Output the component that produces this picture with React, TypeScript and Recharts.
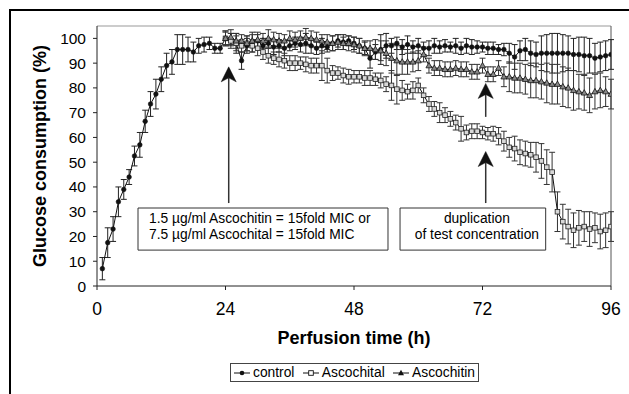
import React from 'react';
import {
  LineChart,
  Line,
  XAxis,
  YAxis,
  ErrorBar,
  Legend,
  ReferenceLine,
  ReferenceDot,
  ReferenceArea,
  Label,
} from 'recharts';

const FONT = '"Liberation Sans", Arial, Helvetica, sans-serif';

// perfusion hours (categories)
const hours = [
  1, 2, 3, 4, 5, 6, 7, 8, 9, 10, 11, 12, 13, 14, 15, 16, 17, 18, 19, 20, 21, 22, 23, 24,
  25, 26, 27, 28, 29, 30, 31, 32, 33, 34, 35, 36, 37, 38, 39, 40, 41, 42, 43, 44, 45, 46, 47, 48,
  49, 50, 51, 52, 53, 54, 55, 56, 57, 58, 59, 60, 61, 62, 63, 64, 65, 66, 67, 68, 69, 70, 71, 72,
  73, 74, 75, 76, 77, 78, 79, 80, 81, 82, 83, 84, 85, 86, 87, 88, 89, 90, 91, 92, 93, 94, 95, 96,
];
const treatmentStartHour = 24;

const controlValues = [
  7, 17.5, 23, 34, 39, 44, 52.5, 57, 66.5, 73.5, 77.5, 83.5, 89, 90.5, 95.5, 95.5, 95.5, 94.5, 97, 97.5, 98, 96, 96, 100,
  99.5, 98, 91, 97, 98.5, 99, 97, 98, 96.5, 97, 96, 97, 98, 97.5, 98, 97, 96, 97, 96.5, 98, 99, 98.5, 99, 98,
  97, 96, 92, 94.5, 95.5, 97, 97, 98, 96.5, 97.5, 96.5, 97, 96, 96, 97, 96.5, 97, 96.5, 97, 96, 97, 96.5, 96.5, 96.5,
  96, 96, 95.5, 95.5, 94, 92.5, 95, 95.5, 94, 93.5, 94, 94, 94, 94, 94, 94, 93.5, 93.5, 93, 93, 92, 92.5, 93, 93.5,
];
const controlErrors = [
  4.5, 6, 5, 6, 4, 3, 4, 5, 4.5, 5, 6, 5, 5, 5, 6, 6, 5, 4, 3, 3, 2.5, 2, 2, 3,
  2.5, 4, 3.5, 3, 4, 2.5, 3, 2, 3, 2.5, 3, 2, 2.5, 3, 4, 3, 2.5, 3, 2, 3, 2.5, 3, 2, 2.5,
  3, 2.5, 4, 3, 6, 5, 3, 2.5, 3, 3.5, 2.5, 3, 2.5, 3, 3, 2.5, 2.5, 2, 3, 2.5, 3, 3, 2.5, 2,
  2.5, 2.5, 2, 2.5, 4, 5, 4, 4.5, 5, 5, 7, 7.5, 8, 8, 7.5, 7, 6.5, 7, 7.5, 7, 6, 6, 6, 6,
];

// from hour 24 to 96
const ascochitalValues = [
  100, 99, 98, 97, 98, 97, 96, 94.5, 93, 92, 91.5, 91, 90, 90, 90, 89.5, 89, 89, 89, 87, 86, 86, 85, 84.5, 84.5,
  84.5, 84, 84, 83.5, 83, 81.5, 81, 79.5, 79, 78.5, 79, 81, 77, 73.5, 71.5, 70, 69, 67.5, 66, 63.5, 62, 62.5, 62.5, 62,
  61.5, 61.5, 60.5, 58.5, 56, 55.5, 54, 53.5, 53, 52, 50.5, 48, 46, 30, 26, 24, 22.5, 23.5, 24, 23, 23.5, 22, 22.5, 24,
];
const ascochitalErrors = [
  2.5, 3, 3, 2.5, 3, 2.5, 3, 3, 3, 2.5, 3, 3, 3, 3, 2.5, 3, 3, 3, 6, 5, 3, 2.5, 3, 3, 2.5,
  2.5, 3, 3, 2.5, 3, 3, 6, 6, 4, 3, 3.5, 3, 3, 3, 3, 4, 3, 3, 3, 5, 3, 3, 3, 2.5,
  2.5, 3, 3.5, 4, 4, 5, 5, 5, 5, 6, 7, 7, 8, 8, 7, 7, 7, 7, 6, 7, 6, 7, 7, 6,
];

const ascochitinValues = [
  100, 100.5, 99, 99, 98, 99, 99.5, 99, 100, 99.5, 99, 99, 100, 99.5, 100, 100.5, 100, 99.5, 99, 98.5, 98, 98.5, 98, 98, 97.5,
  97, 96, 96, 95.5, 95, 94, 92, 91, 90.5, 90.5, 90.5, 91, 93.5, 89, 88, 88, 87.5, 87.5, 88, 87.5, 87.5, 86.5, 86.5, 89,
  85.5, 85.5, 88, 84.5, 84.5, 84, 84, 83.5, 83, 83, 82.5, 82, 81.5, 81.5, 80.5, 80, 79, 78.5, 78, 77, 78.5, 79, 78.5, 77.5,
];
const ascochitinErrors = [
  3, 3, 3, 2.5, 3, 2.5, 3, 3, 3.5, 3, 3, 2.5, 3, 3, 3, 3.5, 3, 3, 2.5, 3, 3, 3, 2.5, 3, 3,
  3, 3, 3, 4, 4, 5, 6, 6, 5, 5, 4, 4, 3, 3, 3, 3, 3, 3, 3, 3, 3, 3, 3, 3,
  3, 3, 3, 4, 6, 6, 6, 6, 7, 7, 7, 8, 8, 8, 8, 8, 8, 7, 7, 7, 7, 7, 6, 6,
];

const xTicks = [0, 24, 48, 72, 96];
const yTicks = [0, 10, 20, 30, 40, 50, 60, 70, 80, 90, 100];
const seriesNames = ['control', 'Ascochital', 'Ascochitin'];
const xTitle = 'Perfusion time (h)';
const yTitle = 'Glucose consumption (%)';
const box1Lines = ['1.5 µg/ml Ascochitin = 15fold MIC or', '7.5 µg/ml Ascochital = 15fold MIC'];
const box2Lines = ['duplication', 'of test concentration'];

const data = hours.map((h, i) => {
  const j = h - treatmentStartHour;
  return {
    t: h,
    control: controlValues[i],
    controlErr: controlErrors[i],
    ascochital: j >= 0 ? ascochitalValues[j] : null,
    ascochitalErr: j >= 0 ? ascochitalErrors[j] : null,
    ascochitin: j >= 0 ? ascochitinValues[j] : null,
    ascochitinErr: j >= 0 ? ascochitinErrors[j] : null,
  };
});

const CircleDot = (p: any) => {
  if (p.cy == null || p.value == null || isNaN(p.cy)) return <g key={`c${p.index}`} />;
  return <circle key={`c${p.index}`} cx={p.cx} cy={p.cy} r={2.3} fill="#111" stroke="#111" strokeWidth={0.6} />;
};
const SquareDot = (p: any) => {
  if (p.cy == null || p.value == null || isNaN(p.cy)) return <g key={`s${p.index}`} />;
  return (
    <rect key={`s${p.index}`} x={p.cx - 2.3} y={p.cy - 2.3} width={4.6} height={4.6} fill="#d8d8d8" stroke="#222" strokeWidth={0.8} />
  );
};
const TriangleDot = (p: any) => {
  if (p.cy == null || p.value == null || isNaN(p.cy)) return <g key={`t${p.index}`} />;
  const { cx, cy } = p;
  return (
    <path
      key={`t${p.index}`}
      d={`M${cx},${cy - 3.2} L${cx + 3},${cy + 2.2} L${cx - 3},${cy + 2.2} Z`}
      fill="#888"
      stroke="#111"
      strokeWidth={0.8}
    />
  );
};

const ArrowHead = (p: any) => {
  const { cx, cy } = p;
  return (
    <path d={`M${cx},${cy} L${cx + 7.5},${cy + 15} L${cx},${cy + 11} L${cx - 7.5},${cy + 15} Z`} fill="#111" stroke="#111" strokeWidth={0.5} />
  );
};

const XTitle = (props: any) => {
  const vb = props.viewBox || {};
  return (
    <text x={vb.x + vb.width / 2} y={vb.y + 57.5} textAnchor="middle" fontFamily={FONT} fontSize={18} fontWeight="bold" fill="#000">
      {xTitle}
    </text>
  );
};

const YTitle = (props: any) => {
  const vb = props.viewBox || {};
  const cx = vb.x + 40;
  const cy = vb.y + vb.height / 2;
  return (
    <text
      x={cx}
      y={cy}
      transform={`rotate(-90, ${cx}, ${cy})`}
      textAnchor="middle"
      dominantBaseline="central"
      fontFamily={FONT}
      fontSize={18}
      fontWeight="bold"
      fill="#000"
    >
      {yTitle}
    </text>
  );
};

const BoxText = (props: any) => {
  const vb = props.viewBox || {};
  const { lines, align } = props;
  const x = align === 'middle' ? vb.x + vb.width / 2 + 4 : vb.x + 11;
  return (
    <text fontFamily={FONT} fontSize={13.8} fill="#000" textAnchor={align === 'middle' ? 'middle' : 'start'}>
      {lines.map((l: string, i: number) => (
        <tspan key={i} x={x} y={vb.y + 14.8 + i * 16.3}>
          {l}
        </tspan>
      ))}
    </text>
  );
};

const LegendMarker = ({ kind }: { kind: number }) => (
  <svg width={16} height={10} style={{ display: 'block' }}>
    <line x1={0} y1={5} x2={16} y2={5} stroke="#111" strokeWidth={1} />
    {kind === 0 && <circle cx={8} cy={5} r={2.3} fill="#111" />}
    {kind === 1 && <rect x={5.7} y={2.7} width={4.6} height={4.6} fill="#fff" stroke="#111" strokeWidth={0.9} />}
    {kind === 2 && <path d="M8,1.8 L11,7.2 L5,7.2 Z" fill="#111" />}
  </svg>
);

const LegendBox = () => (
  <div
    style={{
      boxSizing: 'border-box',
      width: 249,
      height: 19,
      border: '1px solid #444',
      background: '#fff',
      display: 'flex',
      alignItems: 'center',
      justifyContent: 'space-between',
      padding: '0 3px',
      fontFamily: FONT,
      fontSize: 13.8,
      color: '#000',
      whiteSpace: 'nowrap',
    }}
  >
    {seriesNames.map((n, i) => (
      <span key={n} style={{ display: 'inline-flex', alignItems: 'center' }}>
        <LegendMarker kind={i} />
        <span style={{ marginLeft: 3 }}>{n}</span>
      </span>
    ))}
  </div>
);

export default function App() {
  return (
    <div style={{ position: 'absolute', left: 0, top: 0, width: 629, height: 394, overflow: 'hidden', background: '#fff' }}>
      <div
        style={{
          position: 'absolute',
          left: 9,
          top: 9,
          width: 620,
          height: 385,
          borderTop: '2px solid #000',
          borderLeft: '2px solid #000',
          boxSizing: 'border-box',
        }}
      />
      <div style={{ position: 'absolute', left: 0, top: 0 }}>
        <LineChart width={629} height={394} data={data} margin={{ top: 26, right: 18, left: 0, bottom: 48 }}>
          <XAxis
            dataKey="t"
            type="number"
            domain={[0, 96]}
            ticks={xTicks}
            allowDataOverflow
            height={60}
            tickSize={4}
            tickMargin={13}
            stroke="#222"
            tick={{ fontSize: 17.5, fill: '#000', fontFamily: FONT }}
          >
            <Label content={XTitle} />
          </XAxis>
          <YAxis
            type="number"
            domain={[0, 105]}
            ticks={yTicks}
            allowDataOverflow
            width={97}
            tickSize={4}
            tickMargin={7}
            stroke="#222"
            tick={{ fontSize: 15.5, fill: '#000', fontFamily: FONT }}
          >
            <Label content={YTitle} />
          </YAxis>
          <ReferenceLine y={105} stroke="#999" strokeWidth={1} />
          <ReferenceLine x={96} stroke="#555" strokeWidth={1} />

          <Line
            type="linear"
            dataKey="control"
            name={seriesNames[0]}
            stroke="#111"
            strokeWidth={1}
            dot={CircleDot}
            activeDot={false}
            isAnimationActive={false}
          >
            <ErrorBar dataKey="controlErr" direction="y" width={3} stroke="#222" strokeWidth={1} isAnimationActive={false} />
          </Line>
          <Line
            type="linear"
            dataKey="ascochital"
            name={seriesNames[1]}
            stroke="#111"
            strokeWidth={1}
            dot={SquareDot}
            activeDot={false}
            isAnimationActive={false}
          >
            <ErrorBar dataKey="ascochitalErr" direction="y" width={3} stroke="#333" strokeWidth={1} isAnimationActive={false} />
          </Line>
          <Line
            type="linear"
            dataKey="ascochitin"
            name={seriesNames[2]}
            stroke="#111"
            strokeWidth={1}
            dot={TriangleDot}
            activeDot={false}
            isAnimationActive={false}
          >
            <ErrorBar dataKey="ascochitinErr" direction="y" width={3} stroke="#333" strokeWidth={1} isAnimationActive={false} />
          </Line>

          <ReferenceArea x1={7.66} x2={54.35} y1={14.5} y2={31.5} fill="#fff" fillOpacity={1} stroke="#333" strokeWidth={1} label={<BoxText lines={box1Lines} align="start" />} />
          <ReferenceArea x1={56.6} x2={83.8} y1={14.5} y2={31.5} fill="#fff" fillOpacity={1} stroke="#333" strokeWidth={1} label={<BoxText lines={box2Lines} align="middle" />} />

          <ReferenceLine segment={[{ x: 24.6, y: 33.5 }, { x: 24.6, y: 84 }]} stroke="#333" strokeWidth={1.5} />
          <ReferenceDot x={24.6} y={88.5} r={0} shape={ArrowHead} />
          <ReferenceLine segment={[{ x: 72.6, y: 33.5 }, { x: 72.6, y: 50 }]} stroke="#333" strokeWidth={1.5} />
          <ReferenceDot x={72.6} y={54.3} r={0} shape={ArrowHead} />
          <ReferenceLine segment={[{ x: 72.6, y: 68.3 }, { x: 72.6, y: 78 }]} stroke="#333" strokeWidth={1.5} />
          <ReferenceDot x={72.6} y={81.8} r={0} shape={ArrowHead} />

          <Legend
            layout="horizontal"
            verticalAlign="middle"
            align="center"
            wrapperStyle={{ left: 230, top: 363, width: 249, height: 19 }}
            content={() => <LegendBox />}
          />
        </LineChart>
      </div>
    </div>
  );
}
